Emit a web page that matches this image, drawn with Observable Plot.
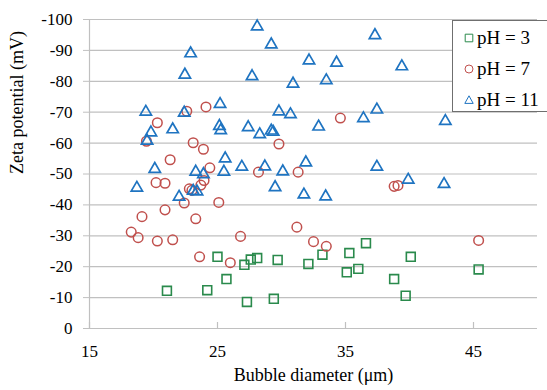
<!DOCTYPE html>
<html><head><meta charset="utf-8">
<script src="https://cdn.jsdelivr.net/npm/d3@7"></script>
<script src="https://cdn.jsdelivr.net/npm/@observablehq/plot@0.6"></script>
<style>
body{margin:0;background:#fff}
#wrap{position:relative;width:547px;height:390px;font-family:"Times New Roman","Liberation Serif","DejaVu Serif",serif;overflow:hidden}
#wrap svg text{font-family:"Times New Roman","Liberation Serif","DejaVu Serif",serif}
#legend{position:absolute;left:452px;top:20px;width:96px;height:92px;border:1.3px solid #6f6f6f;background:#fff;box-sizing:border-box}
.item{position:absolute;left:10px;height:24px;display:flex;align-items:center;font-size:19px;color:#000;white-space:nowrap}
.item svg{margin-right:2px}
</style>
</head><body><div id="wrap"><div id="legend"></div></div>
<script>
const seriesNames = ["pH = 3", "pH = 7", "pH = 11"];
const seriesColors = ["#2a8a4c", "#c0504d", "#1f74c1"];
const seriesSymbols = ["square", "circle", "triangle"];
const xTicks = [15, 25, 35, 45];
const yTicks = [0, -10, -20, -30, -40, -50, -60, -70, -80, -90, -100];
const xLabel = "Bubble diameter (μm)";
const yLabel = "Zeta potential (mV)";

const ph3X = [21.05, 24.2, 25.0, 25.7, 27.3, 27.1, 27.6, 28.1, 29.7, 29.4, 32.1, 33.2, 35.1, 35.3, 36.0, 36.6, 38.8, 39.7, 40.1, 45.4];
const ph3Y = [-12.2, -12.4, -23.2, -16.0, -8.6, -20.6, -22.3, -22.8, -22.2, -9.6, -20.9, -23.9, -18.2, -24.4, -19.3, -27.6, -16.0, -10.6, -23.2, -19.1];

const ph7X = [22.6, 24.1, 20.3, 19.45, 23.1, 23.9, 21.3, 24.4, 23.95, 20.2, 20.9, 23.7, 22.8, 23.0, 22.4, 25.1, 20.9, 19.1, 23.3, 18.26, 18.8, 20.3, 21.5, 23.6, 26.0, 26.8, 31.2, 32.5, 33.5, 45.4, 29.8, 28.2, 31.3, 34.6, 38.8, 39.1];
const ph7Y = [-70.3, -71.7, -66.6, -60.6, -60.1, -58.0, -54.6, -52.0, -47.9, -47.2, -47.0, -46.4, -45.2, -44.7, -40.6, -40.8, -38.4, -36.2, -35.5, -31.2, -29.4, -28.3, -28.7, -23.2, -21.3, -29.8, -32.8, -28.1, -26.6, -28.5, -59.7, -50.6, -50.6, -68.1, -46.0, -46.3];

const ph11X = [22.9, 22.45, 19.4, 22.4, 25.2, 28.1, 29.2, 32.15, 34.3, 37.3, 27.7, 30.9, 33.5, 29.8, 30.7, 36.4, 37.45, 39.4, 42.8, 27.4, 32.9, 28.3, 29.2, 29.35, 19.8, 21.5, 25.15, 25.25, 19.5, 25.6, 20.1, 23.3, 23.9, 25.5, 26.9, 28.7, 30.1, 31.9, 37.45, 39.9, 42.7, 18.7, 29.5, 31.75, 33.45, 22.0, 23.1, 23.4];
const ph11Y = [-89.0, -82.1, -70.1, -69.8, -72.6, -97.7, -91.9, -86.7, -86.0, -94.9, -81.6, -79.2, -80.3, -70.2, -69.3, -68.0, -70.8, -84.8, -67.1, -65.1, -65.3, -62.8, -64.0, -63.6, -63.4, -64.4, -65.5, -64.1, -60.7, -55.0, -51.6, -50.7, -49.9, -50.7, -52.3, -52.4, -50.8, -53.7, -52.3, -48.1, -46.7, -45.5, -45.7, -43.3, -42.7, -42.6, -44.5, -44.3];

const seriesX = [ph3X, ph7X, ph11X];
const seriesY = [ph3Y, ph7Y, ph11Y];
const rows = [];
seriesNames.forEach((s, i) => seriesX[i].forEach((x, j) => rows.push({series: s, x, y: seriesY[i][j]})));

const FONT = "'Times New Roman', 'Liberation Serif', 'DejaVu Serif', serif";
const H = 390, MT = 19, MB = 62;
const chart = Plot.plot({
  width: 547, height: H,
  marginLeft: 89, marginRight: 10, marginTop: MT, marginBottom: MB,
  style: {fontFamily: FONT, fontSize: "17px", color: "#000", background: "#fff"},
  x: {domain: [15, 50]},
  y: {domain: [0, -100]},
  color: {domain: seriesNames, range: seriesColors},
  symbol: {domain: seriesNames, range: seriesSymbols},
  marks: [
    Plot.gridY(yTicks, {stroke: "#c0c0c0", strokeOpacity: 1, strokeWidth: 1.2}),
    Plot.ruleX([15], {stroke: "#c0c0c0", strokeWidth: 1.2}),
    Plot.ruleY([0], {stroke: "#c0c0c0", strokeWidth: 1.2}),
    Plot.axisY(yTicks, {tickSize: 6, tickPadding: 11, stroke: "#c0c0c0", fill: "#000", tickFormat: d => String(d), label: null, fontSize: 17}),
    Plot.axisX(xTicks, {tickSize: 0, tickPadding: 16, fill: "#000", tickFormat: d => String(d), label: null, fontSize: 17}),
    Plot.tickX(xTicks, {x: d => d, stroke: "#c0c0c0", strokeWidth: 1.2, insetTop: H - MT - MB - 6}),
    Plot.dot(rows.filter(d => d.series === seriesNames[0]), {x: "x", y: "y", symbol: "series", stroke: "series", r: 5, strokeWidth: 1.6}),
    Plot.dot(rows.filter(d => d.series === seriesNames[1]), {x: "x", y: "y", symbol: "series", stroke: "series", r: 4.8, strokeWidth: 1.5}),
    Plot.dot(rows.filter(d => d.series === seriesNames[2]), {x: "x", y: "y", symbol: "series", stroke: "series", r: 4.2, strokeWidth: 1.7}),
    Plot.text([yLabel], {frameAnchor: "left", dx: -72, rotate: -90, fontSize: 18, fill: "#000"}),
    Plot.text([xLabel], {frameAnchor: "bottom", dy: 52, fontSize: 18, fill: "#000"})
  ]
});
const wrap = document.getElementById("wrap");
wrap.insertBefore(chart, wrap.firstChild);

const legend = document.getElementById("legend");
const symPaths = {
  square: "M-3.8,-3.8h7.6v7.6h-7.6z",
  circle: "M4,0A4,4 0 1,1 -4,0A4,4 0 1,1 4,0",
  triangle: "M0,-4.2L4.2,3.4L-4.2,3.4z"
};
seriesNames.forEach((s, i) => {
  const div = document.createElement("div");
  div.className = "item";
  div.style.top = (5 + i * 31) + "px";
  div.innerHTML = `<svg width="12" height="12" viewBox="-6 -6 12 12"><path d="${symPaths[seriesSymbols[i]]}" fill="none" stroke="${seriesColors[i]}" stroke-width="1"/></svg><span>${s}</span>`;
  legend.appendChild(div);
});
</script>
</body></html>
